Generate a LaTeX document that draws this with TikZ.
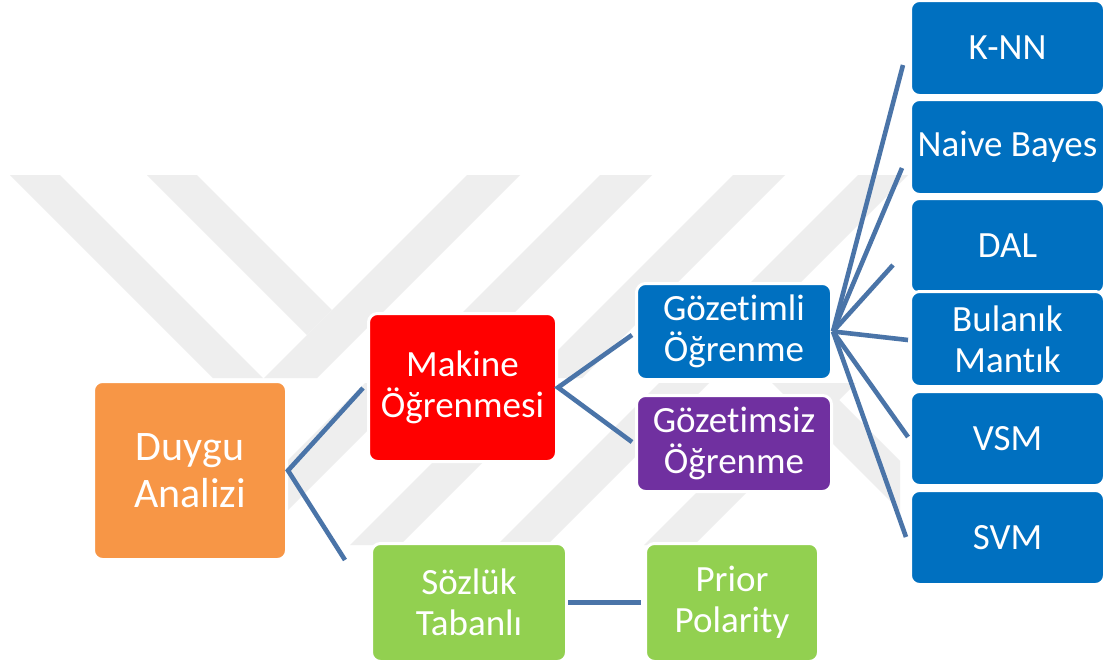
\documentclass[tikz,border=0pt]{standalone}
\usepackage{fontspec}
\setmainfont{Carlito}[Ligatures=NoCommon]
\definecolor{cOrange}{HTML}{F79646}
\definecolor{cRed}{HTML}{FF0000}
\definecolor{cBlue}{HTML}{0070C0}
\definecolor{cPurple}{HTML}{7030A0}
\definecolor{cGreen}{HTML}{92D050}
\definecolor{cLine}{HTML}{4A74A8}
\definecolor{cMark}{HTML}{EEEEEE}
\tikzset{
  box/.style={rounded corners=9pt, draw=white, line width=3pt, text=white,
    align=center, inner sep=0pt, font=\fontsize{37}{41}\selectfont},
  bigbox/.style={box, font=\fontsize{42}{47}\selectfont},
  conn/.style={draw=cLine, line width=4.6pt},
  wmark/.style={fill=cMark}
}
\begin{document}
\begin{tikzpicture}[x=1pt,y=-1pt]
\useasboundingbox[fill=white] (0,0) rectangle (1108,664);
% faint watermark, upper row
\begin{scope}
\clip (0,175) rectangle (1108,378);
\fill[wmark] (10,175) -- (60,175) -- (263,378) -- (213,378) -- cycle;
\fill[wmark] (147,175) -- (197,175) -- (332,310) -- (307,335) -- cycle;
\fill[wmark] (467,175) -- (520,175) -- (317,378) -- (264,378) -- cycle;
\fill[wmark] (600,175) -- (652,175) -- (449,378) -- (397,378) -- cycle;
\fill[wmark] (733,175) -- (785,175) -- (582,378) -- (530,378) -- cycle;
\fill[wmark] (858,175) -- (908,175) -- (705,378) -- (655,378) -- cycle;
\end{scope}
% faint watermark, lower row
\begin{scope}
\clip (0,383) rectangle (900,545);
\fill[wmark] (748,0) -- (798,0) -- (253,545) -- (203,545) -- cycle;
\fill[wmark] (895,0) -- (945,0) -- (400,545) -- (350,545) -- cycle;
\fill[wmark] (1042,0) -- (1092,0) -- (547,545) -- (497,545) -- cycle;
\fill[wmark] (1189,0) -- (1239,0) -- (694,545) -- (644,545) -- cycle;
\fill[wmark] (772,383) -- (822,383) -- (984,545) -- (934,545) -- cycle;
\end{scope}
% nodes
\node[bigbox, fill=cOrange, minimum width=193pt, minimum height=178pt] (duygu) at (190,470.5) {Duygu\\Analizi};
\node[box, fill=cRed, minimum width=188pt, minimum height=148pt] (makine) at (462.5,387.5) {Makine\\Öğrenmesi};
\node[box, fill=cBlue, minimum width=195pt, minimum height=96pt] (gozl) at (734,331.5) {Gözetimli\\Öğrenme};
\node[box, fill=cPurple, minimum width=195pt, minimum height=96pt] (gozs) at (734,443.5) {Gözetimsiz\\Öğrenme};
\node[box, fill=cGreen, minimum width=195pt, minimum height=118pt] (sozluk) at (469,602.5) {Sözlük\\Tabanlı};
\node[box, fill=cGreen, minimum width=173pt, minimum height=118pt] (prior) at (732,602.5) {Prior\\Polarity};
\node[box, fill=cBlue, minimum width=194pt, minimum height=95pt] (knn) at (1007.5,48) {K-NN};
\node[box, fill=cBlue, minimum width=194pt, minimum height=95pt] (nb) at (1007.5,147) {Naive Bayes};
\node[box, fill=cBlue, minimum width=194pt, minimum height=95pt] (dal) at (1007.5,246) {DAL};
\node[box, fill=cBlue, minimum width=194pt, minimum height=95pt] (bul) at (1007.5,339) {Bulanık\\Mantık};
\node[box, fill=cBlue, minimum width=194pt, minimum height=94pt] (vsm) at (1007.5,438.5) {VSM};
\node[box, fill=cBlue, minimum width=194pt, minimum height=94pt] (svm) at (1007.5,537.5) {SVM};
% free ends of the connectors
\coordinate (eMak) at (363,388);
\coordinate (eSoz) at (345,560);
\coordinate (eGl) at (632,335);
\coordinate (eGs) at (632,442);
\coordinate (eKnn) at (903,65);
\coordinate (eNb) at (902,168);
\coordinate (eDal) at (893,265);
\coordinate (eBul) at (908,340);
\coordinate (eVsm) at (908,437);
\coordinate (eSvm) at (906,537);
% connectors
\draw[conn] (eMak) -- (duygu.east) -- (eSoz);
\draw[conn] (eGl) -- (makine.east) -- (eGs);
\foreach \e in {eKnn,eNb,eDal,eBul,eVsm,eSvm}
  \draw[conn] (gozl.east) -- (\e);
\draw[conn, line width=5.5pt, shorten >=3pt] (sozluk.east) -- (prior.west);
\end{tikzpicture}
\end{document}
